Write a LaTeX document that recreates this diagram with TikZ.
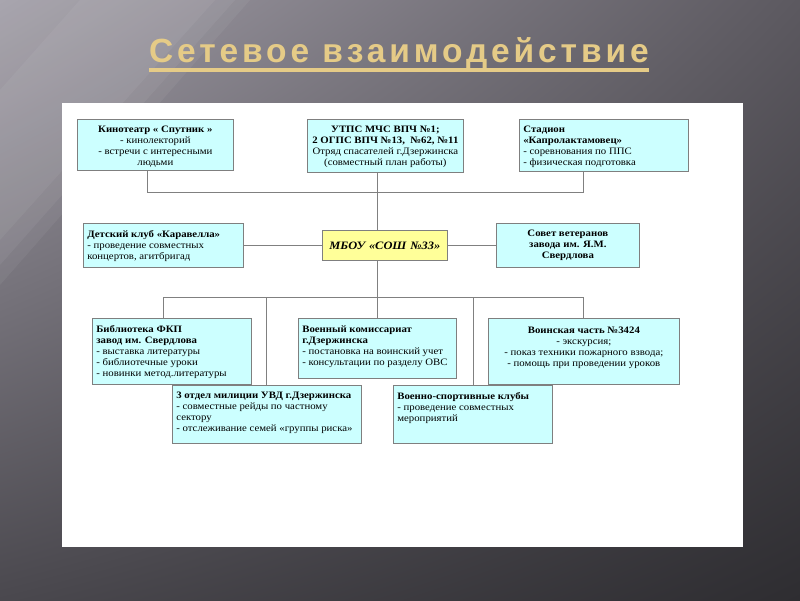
\documentclass[tikz,border=0pt]{standalone}
\usepackage{fontspec}
\usetikzlibrary{shadings}
\setmainfont{Liberation Serif}
\newfontfamily\boxfont[FakeStretch=1.1]{Liberation Serif}
\newfontfamily\titlefont[LetterSpace=11.6]{Liberation Sans}
\definecolor{gold}{HTML}{E5CB87}
\definecolor{bordc}{HTML}{7F7F7F}
\definecolor{cyanc}{HTML}{CCFFFF}
\definecolor{yelc}{HTML}{FFFF99}
\definecolor{linec}{HTML}{808080}
\definecolor{bgul}{RGB}{160,156,166}
\definecolor{bgur}{RGB}{92,89,96}
\definecolor{bgll}{RGB}{74,72,78}
\definecolor{bglr}{RGB}{46,45,49}
\newcommand\btxt[3]{\parbox[t][#1][t]{#2}{\vspace*{3pt}#3}}
\tikzset{
  box/.style={draw=bordc, fill=cyanc, line width=0.7pt, anchor=north west,
    inner xsep=4pt, inner ysep=4pt, font=\boxfont\fontsize{9.8}{11}\selectfont},
  hub/.style={draw=bordc, fill=yelc, line width=0.7pt, anchor=north west,
    inner xsep=4pt, inner ysep=2pt, align=center,
    font=\boxfont\bfseries\itshape\fontsize{11.3}{13}\selectfont},
  conn/.style={draw=linec, line width=0.8pt},
  ttl/.style={font=\titlefont\bfseries\fontsize{33.5}{40}\selectfont, text=gold,
    anchor=base west, inner sep=0pt}
}
\begin{document}
\begin{tikzpicture}[x=1pt,y=-1pt]
\useasboundingbox (0,0) rectangle (800,600);
% background
\shade[upper left=bgul, upper right=bgur, lower left=bgll, lower right=bglr]
  (0,0) rectangle (800,600);
\fill[white, opacity=0.05] (0,0) -- (250,0) -- (0,285) -- cycle;
\fill[white, opacity=0.05] (0,0) -- (235,0) -- (0,265) -- cycle;
\fill[white, opacity=0.05] (80,0) -- (215,0) -- (0,240) -- (0,90) -- cycle;
% title
\node[ttl] (title) at (149,62) {Сетевое взаимодействие};
\draw[gold, line width=3.2pt] ([yshift=-8pt]title.base west) -- ([yshift=-8pt]title.base east);
% panel
\fill[white] (62,103) rectangle (743,547);
% boxes
\node[box] (kino) at (77,119)
  {\btxt{43pt}{148pt}{\centering\textbf{Кинотеатр « Спутник »}\\- кинолекторий\\- встречи с интересными\\людьми}};
\node[box] (utps) at (307,119)
  {\btxt{45pt}{148pt}{\centering\textbf{УТПС МЧС ВПЧ №1;}\\\textbf{2 ОГПС ВПЧ №13,\ \ №62, №11}\\Отряд спасателей г.Дзержинска\\(совместный план работы)}};
\node[box] (stad) at (519,119)
  {\btxt{44pt}{161pt}{\raggedright\textbf{Стадион}\\\textbf{«Капролактамовец»}\\- соревнования по ППС\\- физическая подготовка}};
\node[box] (det) at (83,223)
  {\btxt{36pt}{152pt}{\raggedright\textbf{Детский клуб «Каравелла»}\\- проведение совместных\\концертов, агитбригад}};
\node[hub, text width=117pt, minimum height=30pt] (mbou) at (322,230)
  {МБОУ «СОШ №33»};
\node[box] (sov) at (496,223)
  {\btxt{36pt}{135pt}{\centering\textbf{Совет ветеранов}\\\textbf{завода им. Я.М.}\\\textbf{Свердлова}}};
\node[box] (bib) at (92,318)
  {\btxt{58pt}{151pt}{\raggedright\textbf{Библиотека ФКП}\\\textbf{завод им. Свердлова}\\- выставка литературы\\- библиотечные уроки\\- новинки метод.литературы}};
\node[box] (voenk) at (298,318)
  {\btxt{52pt}{150pt}{\raggedright\textbf{Военный комиссариат}\\\textbf{г.Дзержинска}\\- постановка на воинский учет\\- консультации по разделу ОВС}};
\node[box] (vch) at (488,318)
  {\btxt{58pt}{183pt}{\centering\vspace*{2pt}\textbf{Воинская часть №3424}\\- экскурсия;\\- показ техники пожарного взвода;\\- помощь при проведении уроков}};
\node[box] (otd) at (172,385)
  {\btxt{50pt}{181pt}{\raggedright\textbf{3 отдел милиции УВД г.Дзержинска}\\- совместные рейды по частному\\сектору\\- отслеживание семей «группы риска»}};
\node[box] (vsp) at (393,385)
  {\btxt{50pt}{151pt}{\raggedright\textbf{Военно-спортивные клубы}\\- проведение совместных\\мероприятий}};
% junction coordinates
\coordinate (tl) at (147,192);
\coordinate (tm) at (377,192);
\coordinate (tr) at (583,192);
\coordinate (bl) at (163,297);
\coordinate (b2) at (266,297);
\coordinate (bm) at (377,297);
\coordinate (b4) at (473,297);
\coordinate (br) at (583,297);
% connectors
\draw[conn] (tl |- kino.south) -- (tl) -- (tr) -- (tr |- stad.south);
\draw[conn] (tm |- utps.south) -- (tm |- mbou.north);
\draw[conn] (tm |- mbou.south) -- (bm);
\draw[conn] (det.east) -- (mbou.west);
\draw[conn] (mbou.east) -- (sov.west);
\draw[conn] (bl) -- (br);
\draw[conn] (bl) -- (bl |- bib.north);
\draw[conn] (b2) -- (b2 |- otd.north);
\draw[conn] (bm) -- (bm |- voenk.north);
\draw[conn] (b4) -- (b4 |- vsp.north);
\draw[conn] (br) -- (br |- vch.north);
\end{tikzpicture}
\end{document}
